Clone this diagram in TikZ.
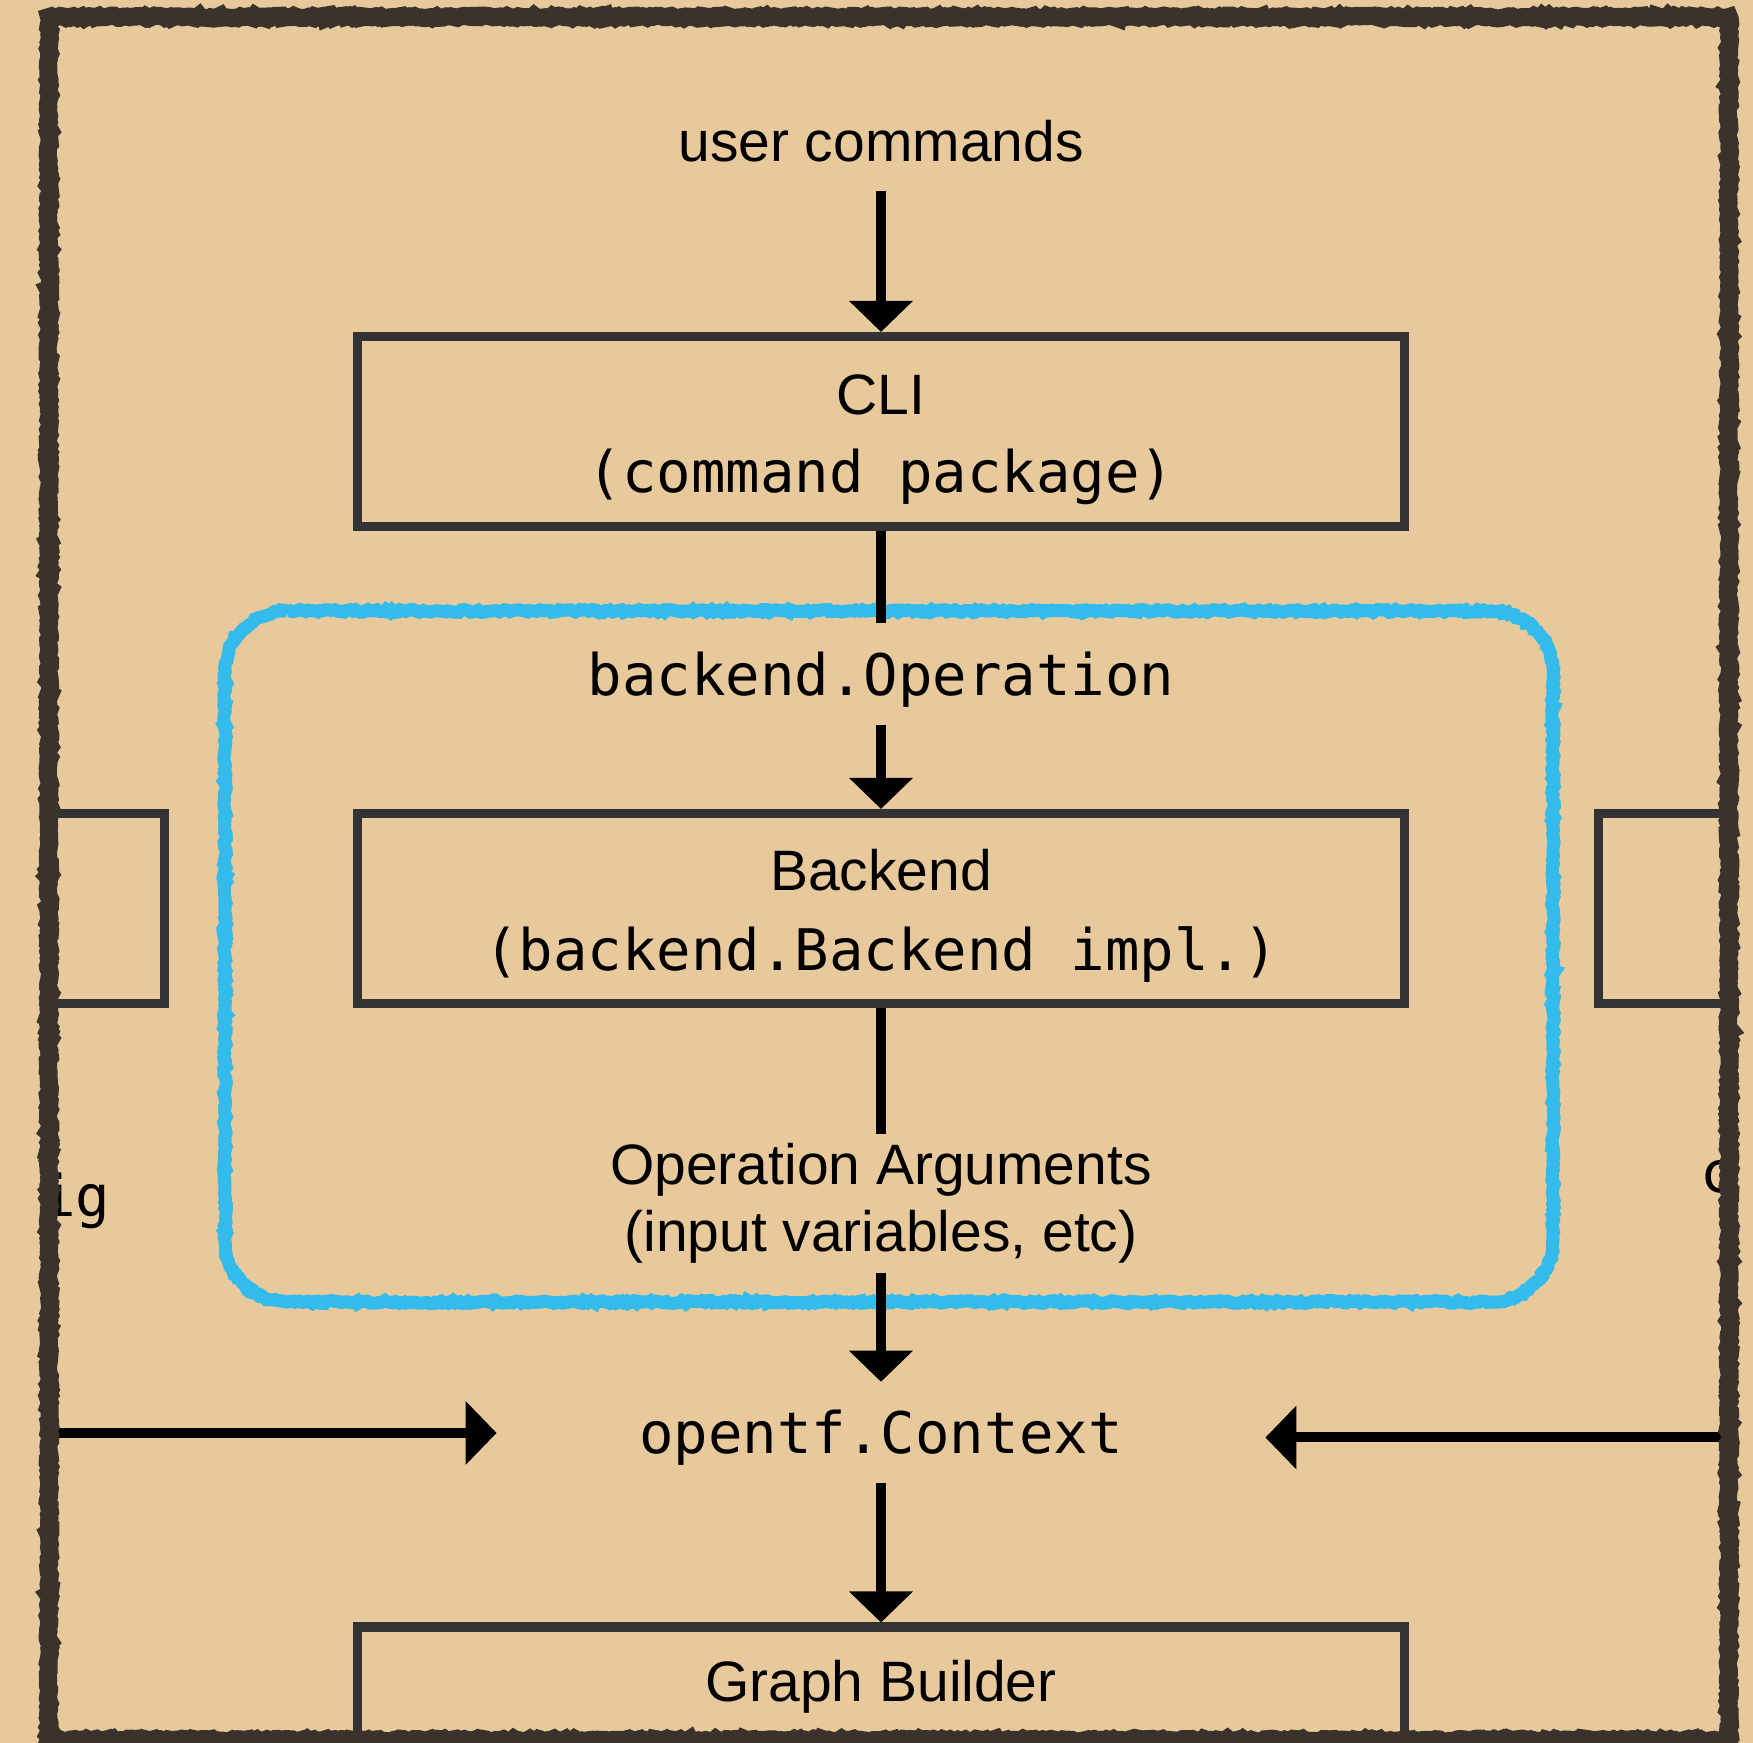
\documentclass[tikz,border=0pt]{standalone}
\usepackage{fontspec}
\setmainfont{Liberation Sans}
\setmonofont{DejaVu Sans Mono}
\usetikzlibrary{arrows.meta,decorations.pathmorphing}

\definecolor{paper}{HTML}{E7C99C}
\definecolor{framebrown}{HTML}{3B322C}
\definecolor{groupblue}{HTML}{33BBEC}
\definecolor{boxline}{HTML}{333333}

% pushes the first line of a pane down a little
\newcommand{\boxstrut}{\rule{0pt}{0.56cm}}

\tikzset{
  pane/.style={draw=boxline, line width=0.09cm, minimum width=10.47cm, minimum height=1.9cm,
    inner sep=0pt, align=center, font=\fontsize{16.2pt}{22pt}\selectfont},
  lbl/.style={inner sep=0pt, minimum height=1cm, text height=0.54cm, text depth=0.12cm,
    font=\fontsize{16.2pt}{19pt}\selectfont},
  codelbl/.style={lbl, font=\fontsize{16.3pt}{19pt}\selectfont\ttfamily},
  flow/.style={line width=0.1cm, -{Triangle[width=0.62cm,length=0.31cm]}},
  link/.style={line width=0.1cm},
  chalky/.style={line width=#1, decorate,
    decoration={random steps, segment length=0.03cm, amplitude=0.014cm}},
}

\begin{document}
\begin{tikzpicture}[x=0.01cm, y=-0.01cm]
  \pgfmathsetseed{7}
  \useasboundingbox (0,0) rectangle (1753,1743);
  \clip (0,0) rectangle (1753,1743);
  \fill[paper] (0,0) rectangle (1753,1743);

  % group round the backend part (y grows downwards here, so the arcs turn that way)
  \draw[chalky=0.13cm, groupblue]
    (287,611) -- (1491,611) arc(-90:0:62) -- (1553,1240) arc(0:90:62)
    -- (287,1302) arc(90:180:62) -- (225,673) arc(180:270:62) -- cycle;

  \node[lbl] (user) at (881,140) {user commands};
  \node[pane] (cli) at (881,431.5) {\boxstrut CLI\\\fontsize{16.3pt}{22pt}\ttfamily (command package)};
  \node[codelbl] (op) at (881,674) {backend.Operation};
  \node[pane] (backend) at (881,908.5) {\boxstrut Backend\\[1pt]\fontsize{16.3pt}{22pt}\ttfamily (backend.Backend impl.)};
  \node[inner sep=0pt, minimum height=1.37cm, align=center,
    font=\fontsize{16.2pt}{19pt}\selectfont] (args) at (881,1203.5)
    {Operation Arguments\\(input variables, etc)};
  \node[codelbl, minimum width=7.67cm] (ctx) at (881,1432.5) {opentf.Context};
  \node[pane, anchor=north, text height=0.74cm, text depth=1.2cm] (graph) at (881,1622.5) {Graph Builder};

  % neighbours at the sides, cut by the frame
  \node[pane, minimum width=1.15cm] (leftpane) at (106.5,908.5) {};
  \node[pane, minimum width=1.3cm] (rightpane) at (1664,908.5) {};
  \node[inner sep=0pt, anchor=base east, font=\fontsize{16.3pt}{19pt}\selectfont\ttfamily]
    (lefttext) at (111,1217) {ig};
  \node[inner sep=0pt, anchor=base west, font=\fontsize{16.3pt}{19pt}\selectfont\ttfamily]
    (righttext) at (1700,1193) {c};

  \draw[flow] (user) -- (cli);
  \draw[link] (cli) -- (op);
  \draw[flow] (op) -- (backend);
  \draw[link] (backend) -- (args);
  \draw[flow] (args) -- (ctx);
  \draw[flow] (ctx) -- (graph);

  \coordinate (leftin) at (49,1433);
  \coordinate (rightin) at (1729,1437.5);
  \draw[flow] (leftin) -- (leftin -| ctx.west);
  \draw[flow] (rightin) -- (rightin -| ctx.east);

  % rough outer frame
  \draw[chalky=0.18cm, framebrown] (49,17) rectangle (1729,1740);
\end{tikzpicture}
\end{document}
